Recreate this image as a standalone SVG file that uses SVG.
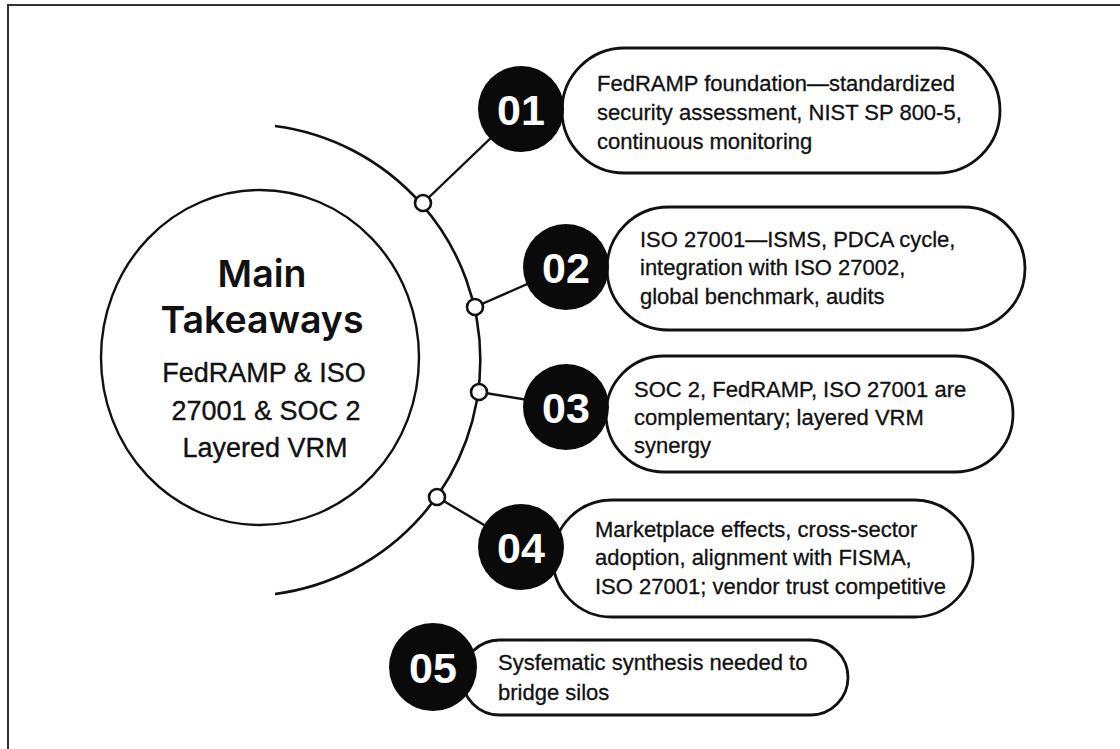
<svg xmlns="http://www.w3.org/2000/svg" width="1120" height="749" viewBox="0 0 1120 749">
<style>
.frame{fill:none;stroke:#333;stroke-width:2}
.arc{fill:none;stroke:#111;stroke-width:2.6}
.main{fill:#fff;stroke:#111;stroke-width:2.4}
.con{stroke:#111;stroke-width:2.4;fill:none}
.dot{fill:#fff;stroke:#111;stroke-width:2.6}
.pill{fill:#fff;stroke:#111;stroke-width:2.8}
.num{fill:#0a0a0a}
.numt{fill:#fff;font-family:"Liberation Sans",Arial,sans-serif;font-weight:700;font-size:43px;text-anchor:middle}
.ttl{fill:#111;font-family:Inter,"Liberation Sans",sans-serif;font-weight:600;font-size:37.5px;text-anchor:middle}
.sub{fill:#111;stroke:#111;stroke-width:0.35;font-family:"Liberation Sans",Arial,sans-serif;font-size:27px;text-anchor:middle}
.txt{fill:#111;stroke:#111;stroke-width:0.3;font-family:"Liberation Sans",Arial,sans-serif;font-size:22px}
</style>
<rect x="0" y="0" width="1120" height="749" fill="#fff"/>
<rect class="frame" x="8" y="5" width="1200" height="800"/>

<g id="connectors">
<path class="arc" d="M275,126 A236,236 0 0 1 275,594"/>
<line class="con" x1="423" y1="203" x2="521" y2="109"/>
<line class="con" x1="475" y1="307" x2="566" y2="267"/>
<line class="con" x1="479" y1="392" x2="566" y2="406"/>
<line class="con" x1="437" y1="497" x2="521" y2="547"/>
<circle class="dot" cx="423" cy="203" r="8"/>
<circle class="dot" cx="475" cy="307" r="8"/>
<circle class="dot" cx="479" cy="392" r="8"/>
<circle class="dot" cx="437" cy="497" r="8"/>
</g>

<g id="main">
<ellipse class="main" cx="260" cy="357.5" rx="159" ry="167.5"/>
<text class="ttl" x="262" y="287">Main</text>
<text class="ttl" x="262" y="333">Takeaways</text>
<text class="sub" x="264" y="382">FedRAMP &amp; ISO</text>
<text class="sub" x="266" y="420">27001 &amp; SOC 2</text>
<text class="sub" x="265" y="457">Layered VRM</text>
</g>

<g id="item1">
<rect class="pill" x="562" y="48" width="438" height="125" rx="62.5"/>
<circle class="num" cx="521" cy="109" r="43"/>
<text class="numt" x="521" y="125">01</text>
<text class="txt" x="597" y="91">FedRAMP foundation—standardized</text>
<text class="txt" x="597" y="120">security assessment, NIST SP 800-5,</text>
<text class="txt" x="597" y="149">continuous monitoring</text>
</g>

<g id="item2">
<rect class="pill" x="607" y="207" width="418" height="123" rx="61.5"/>
<circle class="num" cx="566" cy="267" r="43"/>
<text class="numt" x="566" y="283">02</text>
<text class="txt" x="640" y="247">ISO 27001—ISMS, PDCA cycle,</text>
<text class="txt" x="640" y="275">integration with ISO 27002,</text>
<text class="txt" x="640" y="304">global benchmark, audits</text>
</g>

<g id="item3">
<rect class="pill" x="606" y="356" width="407" height="116" rx="58"/>
<circle class="num" cx="566" cy="407" r="43"/>
<text class="numt" x="566" y="423">03</text>
<text class="txt" x="634" y="397">SOC 2, FedRAMP, ISO 27001 are</text>
<text class="txt" x="634" y="425">complementary; layered VRM</text>
<text class="txt" x="634" y="453">synergy</text>
</g>

<g id="item4">
<rect class="pill" x="553" y="500" width="420" height="117" rx="58.5"/>
<circle class="num" cx="521" cy="547" r="43"/>
<text class="numt" x="521" y="563">04</text>
<text class="txt" x="595" y="537">Marketplace effects, cross-sector</text>
<text class="txt" x="595" y="565">adoption, alignment with FISMA,</text>
<text class="txt" x="595" y="594">ISO 27001; vendor trust competitive</text>
</g>

<g id="item5">
<rect class="pill" x="462" y="640" width="386" height="75" rx="37.5"/>
<circle class="num" cx="433" cy="667" r="44"/>
<text class="numt" x="433" y="683">05</text>
<text class="txt" x="498" y="670">Sysfematic synthesis needed to</text>
<text class="txt" x="498" y="700">bridge silos</text>
</g>
</svg>
